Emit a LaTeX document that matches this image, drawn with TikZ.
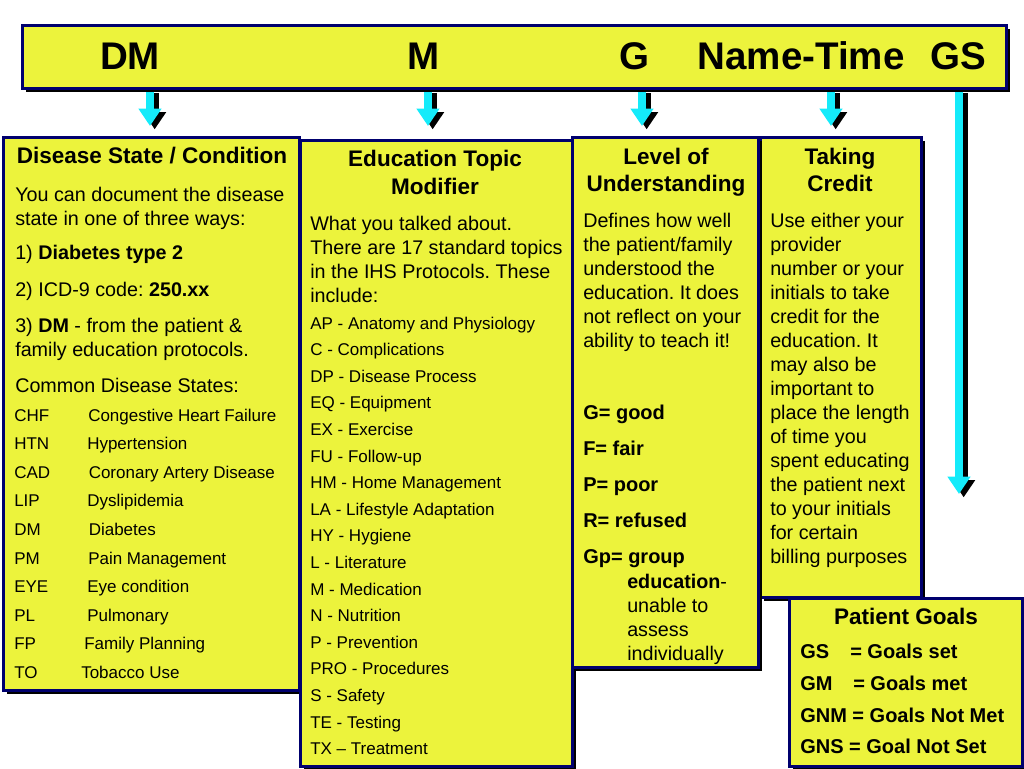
\documentclass[tikz,border=0pt]{standalone}
\usepackage{fontspec}
\setmainfont{Liberation Sans}
\usetikzlibrary{arrows.meta,shadows,fit}
\definecolor{yel}{RGB}{236,243,60}
\definecolor{navy}{RGB}{0,0,110}
\definecolor{cyanc}{RGB}{20,235,250}
\pgfdeclarelayer{bg}
\pgfsetlayers{bg,main}
\frenchspacing
\tikzset{
 box/.style={draw=navy, line width=2.25pt, fill=yel, inner sep=0pt,
   drop shadow={shadow xshift=3.2pt,shadow yshift=-3.2pt,opacity=1,fill=black}},
 txt/.style={anchor=base west, inner sep=0pt, font=\fontsize{14.8}{17}\selectfont},
 ttl/.style={anchor=base, inner sep=0pt, font=\bfseries\fontsize{16.9}{20}\selectfont},
 lst/.style={anchor=base west, inner sep=0pt, font=\fontsize{12.75}{15}\selectfont},
 bld/.style={anchor=base west, inner sep=0pt, font=\bfseries\fontsize{15}{18}\selectfont},
 big/.style={anchor=base, inner sep=0pt, font=\bfseries\fontsize{28.9}{34}\selectfont},
 arr/.style={line width=6pt, draw=cyanc, -{Triangle[width=16.5pt,length=13pt,fill=cyanc]}},
 arrsh/.style={line width=6pt, draw=black, -{Triangle[width=16.5pt,length=13pt,fill=black]},
   transform canvas={xshift=3.5pt, yshift=-2.5pt}},
}
\begin{document}
\begin{tikzpicture}[x=0.75pt,y=-0.75pt]
\useasboundingbox (0,0) rectangle (1024,768);
% top bar
\node[box, fit={(22,25) (1006,88)}] (bar) {};
\node[big] (hDM) at (130,69) {DM};
\node[big] (hM) at (424,69) {M};
\node[big] (hG) at (634,69) {G};
\node[big] (hNT) at (801,69) {Name-Time};
\node[big] (hGS) at (958,69) {GS};
% arrows
\coordinate (tDM) at (150,126);
\coordinate (tM) at (428,126);
\coordinate (tG) at (642,126);
\coordinate (tNT) at (831,126);
\coordinate (tGS) at (959,494);
\begin{pgfonlayer}{bg}
\foreach \t in {tDM,tM,tG,tNT,tGS}{
  \draw[arrsh] (bar.south -| \t) -- (\t);
}
\foreach \t in {tDM,tM,tG,tNT,tGS}{
  \draw[arr] (bar.south -| \t) -- (\t);
}
\end{pgfonlayer}
% boxes
\node[box, fit={(3,137) (299,690)}] (b1) {};
\node[box, fit={(300,140) (572,766)}] (b2) {};
\node[box, fit={(760,137) (921,597)}] (b4) {};
\node[box, fit={(572,137) (758,667)}] (b3) {};
\node[box, fit={(789,598) (1022,766)}] (b5) {};
% box 1
\node[ttl] (b1t) at (152,163) {Disease State / Condition};
\node[txt] (b1p1) at (15,201) {You can document the disease};
\node[txt] (b1p2) at (15,225) {state in one of three ways:};
\node[txt] (b1p3) at (15,259) {1) \textbf{Diabetes type 2}};
\node[txt] (b1p4) at (15,296) {2) ICD-9 code: \textbf{250.xx}};
\node[txt] (b1p5) at (15,332) {3) \textbf{DM} - from the patient \&};
\node[txt] (b1p6) at (15,356) {family education protocols.};
\node[txt] (b1p7) at (15,392) {Common Disease States:};
\foreach \a/\b/\xx [count=\i] in {CHF/Congestive Heart Failure/88, HTN/Hypertension/87, CAD/Coronary Artery Disease/88.5, LIP/Dyslipidemia/87, DM/Diabetes/88.5, PM/Pain Management/88, EYE/Eye condition/87, PL/Pulmonary/87, FP/Family Planning/84, TO/Tobacco Use/81}{
  \pgfmathsetmacro\yy{421+28.6*(\i-1)}
  \node[lst] (b1a\i) at (14,\yy) {\a};
  \node[lst] (b1b\i) at (\xx,\yy) {\b};
}
% box 2
\node[ttl] (b2t1) at (435,166) {Education Topic};
\node[ttl] (b2t2) at (435,194) {Modifier};
\node[txt] (b2p1) at (310,230) {What you talked about.};
\node[txt] (b2p2) at (310,254) {There are 17 standard topics};
\node[txt] (b2p3) at (310,278) {in the IHS Protocols. These};
\node[txt] (b2p4) at (310,302) {include:};
\foreach \t [count=\i] in {AP - Anatomy and Physiology, C - Complications, DP - Disease Process, EQ - Equipment, EX - Exercise, FU - Follow-up, HM - Home Management, LA - Lifestyle Adaptation, HY - Hygiene, L - Literature, M - Medication, N - Nutrition, P - Prevention, PRO - Procedures, S - Safety, TE - Testing, TX – Treatment}{
  \pgfmathsetmacro\yy{329+26.6*(\i-1)}
  \node[lst] (b2l\i) at (310,\yy) {\t};
}
% box 3
\node[ttl] (b3t1) at (666,164) {Level of};
\node[ttl] (b3t2) at (666,191) {Understanding};
\foreach \t [count=\i] in {Defines how well, the patient/family, understood the, education. It does, not reflect on your, ability to teach it!}{
  \pgfmathsetmacro\yy{227+24*(\i-1)}
  \node[txt] (b3p\i) at (583,\yy) {\t};
}
\node[bld] (b3g1) at (583,419) {G= good};
\node[bld] (b3g2) at (583,455) {F= fair};
\node[bld] (b3g3) at (583,491) {P= poor};
\node[bld] (b3g4) at (583,527) {R= refused};
\node[bld] (b3g5) at (583,563) {Gp= group};
\node[txt] (b3g6) at (627,588) {\textbf{education}-};
\node[txt] (b3g7) at (627,612) {unable to};
\node[txt] (b3g8) at (627,636) {assess};
\node[txt] (b3g9) at (627,660) {individually};
% box 4
\node[ttl] (b4t1) at (840,164) {Taking};
\node[ttl] (b4t2) at (840,191) {Credit};
\foreach \t [count=\i] in {Use either your, provider, number or your, initials to take, credit for the, education. It, may also be, important to, place the length, of time you, spent educating, the patient next, to your initials, for certain, billing purposes}{
  \pgfmathsetmacro\yy{227+24*(\i-1)}
  \node[txt] (b4p\i) at (770,\yy) {\t};
}
% box 5
\node[ttl] (b5t) at (906,624) {Patient Goals};
\node[bld] (b5a1) at (800,658) {GS};
\node[bld] (b5b1) at (850,658) {= Goals set};
\node[bld] (b5a2) at (800,690) {GM};
\node[bld] (b5b2) at (853,690) {= Goals met};
\node[bld] (b5a3) at (800,722) {GNM = Goals Not Met};
\node[bld] (b5a4) at (800,753) {GNS = Goal Not Set};
\end{tikzpicture}
\end{document}
